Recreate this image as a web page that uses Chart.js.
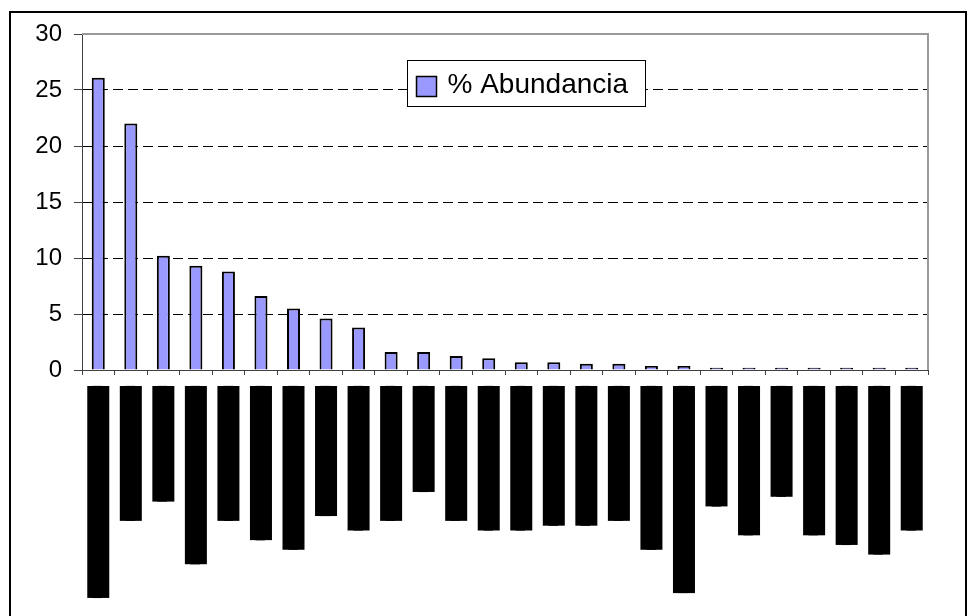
<!DOCTYPE html>
<html>
<head>
<meta charset="utf-8">
<script src="https://cdn.jsdelivr.net/npm/chart.js@4/dist/chart.umd.min.js"></script>
<style>
  html, body { margin: 0; padding: 0; background: #fff; }
  canvas { display: block; }
</style>
</head>
<body>
<canvas id="c" width="970" height="616"></canvas>
<script>
// Category labels (redacted in the source image)
const categories = [
  '████████████████████████████████████████████',
  '████████████████████████████',
  '████████████████████████',
  '█████████████████████████████████████',
  '████████████████████████████',
  '████████████████████████████████',
  '██████████████████████████████████',
  '███████████████████████████',
  '██████████████████████████████',
  '████████████████████████████',
  '██████████████████████',
  '████████████████████████████',
  '██████████████████████████████',
  '██████████████████████████████',
  '█████████████████████████████',
  '█████████████████████████████',
  '████████████████████████████',
  '██████████████████████████████████',
  '███████████████████████████████████████████',
  '█████████████████████████',
  '███████████████████████████████',
  '███████████████████████',
  '███████████████████████████████',
  '█████████████████████████████████',
  '███████████████████████████████████',
  '██████████████████████████████'
];

const abundance = [26.1, 22.0, 10.2, 9.3, 8.8, 6.6, 5.5, 4.6, 3.8, 1.6, 1.6, 1.25, 1.05,
                   0.7, 0.7, 0.55, 0.55, 0.35, 0.35, 0.2, 0.2, 0.2, 0.2, 0.2, 0.2, 0.2];

const seriesName = '% Abundancia';
const yTicks = [0, 5, 10, 15, 20, 25, 30];

const framePlugin = {
  id: 'frame',
  beforeDraw(chart) {
    const ctx = chart.ctx;
    ctx.save();
    ctx.fillStyle = '#fff';
    ctx.fillRect(0, 0, chart.width, chart.height);
    ctx.strokeStyle = '#000';
    ctx.lineWidth = 2;
    ctx.beginPath();
    ctx.moveTo(10, chart.height + 5);
    ctx.lineTo(10, 12);
    ctx.lineTo(966, 12);
    ctx.lineTo(966, chart.height + 5);
    ctx.stroke();
    ctx.restore();
  }
};

const plotBorderPlugin = {
  id: 'plotBorder',
  afterDatasetsDraw(chart) {
    const ctx = chart.ctx, ca = chart.chartArea;
    ctx.save();
    ctx.strokeStyle = '#9a9a9a';
    ctx.lineWidth = 2;
    ctx.beginPath();
    ctx.moveTo(ca.left, ca.top);
    ctx.lineTo(ca.right, ca.top);
    ctx.lineTo(ca.right, ca.bottom);
    ctx.stroke();
    ctx.restore();
  }
};

const boxLegendPlugin = {
  id: 'boxLegend',
  afterDraw(chart) {
    const ctx = chart.ctx, ca = chart.chartArea;
    const ds = chart.data.datasets[0];
    const w = ca.right - ca.left;
    const left = Math.round(ca.left + w * 0.3836) + 0.5;
    const top = Math.round(ca.top + 26) + 0.5;
    const bw = 238, bh = 46;
    ctx.save();
    ctx.fillStyle = '#fff';
    ctx.fillRect(left, top, bw, bh);
    ctx.strokeStyle = '#000';
    ctx.lineWidth = 1;
    ctx.strokeRect(left, top, bw, bh);
    // swatch
    ctx.fillStyle = ds.backgroundColor;
    ctx.fillRect(left + 9, top + 16, 20, 20);
    ctx.lineWidth = 1.5;
    ctx.strokeRect(left + 9, top + 16, 20, 20);
    // text
    ctx.fillStyle = '#000';
    ctx.font = '28px "Liberation Sans", Arial, sans-serif';
    ctx.textBaseline = 'middle';
    ctx.textAlign = 'left';
    ctx.fillText(ds.label, left + 40, top + 25);
    ctx.restore();
  }
};

new Chart(document.getElementById('c'), {
  type: 'bar',
  data: {
    labels: categories,
    datasets: [{
      label: seriesName,
      data: abundance,
      backgroundColor: '#9999ff',
      borderColor: '#000',
      borderWidth: 2,
      barPercentage: 0.4,
      categoryPercentage: 1.0
    }]
  },
  options: {
    responsive: false,
    animation: false,
    devicePixelRatio: 1,
    layout: { padding: { top: 34, right: 42, bottom: 0, left: 0 } },
    plugins: {
      legend: { display: false },
      tooltip: { enabled: false },
      title: { display: false }
    },
    scales: {
      x: {
        offset: true,
        grid: { display: true, drawOnChartArea: false, drawTicks: true, tickLength: 5,
                tickColor: '#404040', tickWidth: 1, offset: true },
        border: { display: true, color: '#404040', width: 1 },
        ticks: {
          autoSkip: false, minRotation: 90, maxRotation: 90,
          padding: 11, labelOffset: -11,
          color: '#000',
          font: { family: '"DejaVu Sans Mono"', size: 8, lineHeight: '22px' },
          showLabelBackdrop: true, backdropColor: '#000', backdropPadding: 0
        },
        afterFit(s) { s.height = 246; }
      },
      y: {
        min: yTicks[0],
        max: yTicks[yTicks.length - 1],
        afterBuildTicks(s) { s.ticks = yTicks.map(v => ({ value: v })); },
        ticks: {
          padding: 12, color: '#000',
          font: { family: '"Liberation Sans", Arial, sans-serif', size: 24 }
        },
        grid: {
          color: c => (c.tick && (c.tick.value === yTicks[0] || c.tick.value === yTicks[yTicks.length - 1])) ? 'rgba(0,0,0,0)' : '#000',
          drawTicks: true, tickLength: 8, tickColor: '#404040', lineWidth: 1
        },
        border: { display: true, color: '#404040', width: 1, dash: [10, 5] },
        afterFit(s) { s.width = 82; }
      }
    }
  },
  plugins: [framePlugin, plotBorderPlugin, boxLegendPlugin]
});
</script>
</body>
</html>
